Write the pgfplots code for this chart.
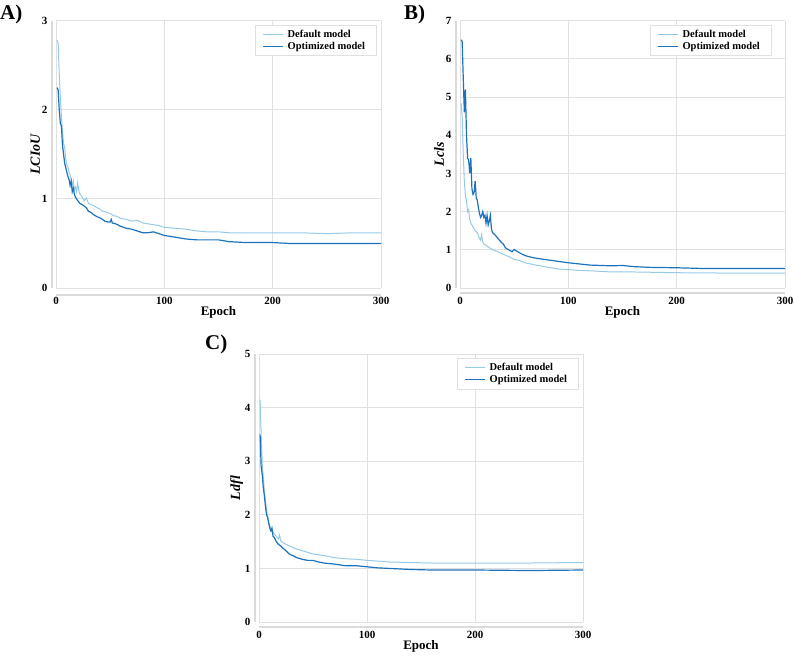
\documentclass[border=0pt]{standalone}
\usepackage{pgfplots}
\pgfplotsset{compat=1.18}
\usepackage{fontspec}
\setmainfont{Liberation Serif}

\definecolor{lightblue}{RGB}{150,202,232}
\definecolor{darkblue}{RGB}{28,114,188}
\definecolor{gridgray}{RGB}{224,224,224}
\definecolor{spinegray}{RGB}{218,218,218}

\tikzset{spine/.style={spinegray, line width=1.8pt}}

% ---------- loss curves: epoch, value ----------
\pgfplotstableread{
x y
1 2.78
2 2.75
3 2.40
4 2.15
5 1.92
6 1.75
7 1.62
8 1.58
9 1.45
10 1.38
11 1.36
12 1.30
13 1.27
14 1.22
15 1.15
16 1.20
17 1.10
18 1.13
19 1.08
20 1.18
21 1.10
22 1.06
24 1.02
26 0.98
28 1.01
30 0.95
32 0.94
35 0.92
38 0.90
40 0.89
43 0.86
45 0.86
48 0.84
50 0.84
53 0.81
55 0.81
60 0.78
65 0.77
70 0.75
75 0.76
80 0.73
85 0.72
90 0.71
95 0.70
100 0.68
110 0.67
120 0.66
130 0.64
140 0.63
150 0.63
160 0.62
175 0.62
200 0.62
225 0.62
250 0.61
275 0.62
300 0.62
}\ciouDefault
\pgfplotstableread{
x y
1 2.25
2 2.22
3 2.00
4 1.85
5 1.82
6 1.60
7 1.50
8 1.40
9 1.35
10 1.30
11 1.25
12 1.22
13 1.15
14 1.20
15 1.08
16 1.12
17 1.05
18 1.02
20 0.98
22 0.95
25 0.93
28 0.90
30 0.86
32 0.85
35 0.82
38 0.80
40 0.79
43 0.77
45 0.75
48 0.74
50 0.74
51 0.77
52 0.73
55 0.72
60 0.69
65 0.67
70 0.66
75 0.64
80 0.62
85 0.62
90 0.63
95 0.61
100 0.59
110 0.57
120 0.55
130 0.54
140 0.54
150 0.54
160 0.52
175 0.51
200 0.51
215 0.50
230 0.50
250 0.50
275 0.50
300 0.50
}\ciouOpt
\pgfplotstableread{
x y
1 4.85
2 4.50
3 3.50
4 2.80
5 2.40
6 2.30
7 2.00
8 2.05
9 1.80
10 1.70
12 1.60
14 1.50
16 1.45
18 1.30
19 1.25
20 1.40
21 1.20
22 1.15
25 1.10
28 1.04
30 1.00
35 0.95
40 0.88
45 0.82
50 0.75
55 0.72
60 0.66
65 0.63
70 0.60
80 0.55
90 0.50
100 0.48
110 0.46
120 0.45
140 0.42
160 0.42
180 0.41
200 0.40
250 0.39
300 0.39
}\clsDefault
\pgfplotstableread{
x y
1 6.50
2 6.45
3 5.50
4 4.60
5 5.20
6 4.00
7 3.40
8 3.35
9 3.00
10 3.40
11 2.60
12 2.45
13 2.50
14 2.80
15 2.35
16 2.30
17 2.10
18 1.95
19 1.85
20 1.90
21 2.00
22 1.85
23 1.90
24 1.70
25 1.90
26 1.65
27 1.75
28 1.90
29 1.55
30 1.45
32 1.40
35 1.30
38 1.20
40 1.15
42 1.05
45 1.00
48 0.95
50 1.01
52 0.97
55 0.92
60 0.85
65 0.81
70 0.78
80 0.74
90 0.70
100 0.66
110 0.63
120 0.60
130 0.59
140 0.58
150 0.59
160 0.56
175 0.54
200 0.53
225 0.51
250 0.51
300 0.51
}\clsOpt
\pgfplotstableread{
x y
1 4.15
2 3.50
3 2.95
4 2.70
5 2.45
6 2.25
7 2.10
8 1.95
9 1.85
10 1.80
12 1.70
14 1.65
16 1.60
18 1.55
19 1.62
20 1.52
22 1.48
25 1.45
30 1.40
35 1.36
40 1.33
45 1.30
50 1.27
60 1.24
70 1.20
80 1.18
90 1.17
100 1.15
120 1.12
140 1.11
160 1.10
180 1.10
200 1.10
250 1.10
300 1.11
}\dflDefault
\pgfplotstableread{
x y
1 3.50
2 2.90
3 2.75
4 2.50
5 2.35
6 2.15
7 2.00
8 1.95
9 1.85
10 1.75
11 1.70
12 1.75
13 1.60
14 1.58
16 1.50
18 1.45
20 1.42
22 1.38
25 1.33
28 1.27
30 1.25
35 1.20
40 1.17
45 1.15
50 1.15
55 1.12
60 1.10
70 1.08
80 1.05
90 1.05
100 1.03
110 1.01
120 1.00
140 0.98
160 0.97
180 0.97
200 0.97
250 0.96
300 0.97
}\dflOpt

\pgfplotsset{
  losspanel/.style={
    scale only axis,
    clip=false,
    xmin=0, xmax=300,
    xtick={0,100,200,300},
    grid=major,
    major grid style={gridgray, line width=0.8pt},
    axis line style={draw=none},
    major tick length=0pt,
    tick style={draw=none},
    /pgf/number format/assume math mode=true,
    ticklabel style={font=\bfseries\fontsize{11}{13}\selectfont},
    yticklabel style={xshift=-5pt},
    xticklabel style={yshift=-6pt},
    xlabel={Epoch},
    xlabel style={font=\bfseries\fontsize{13}{15}\selectfont, yshift=5pt},
    ylabel style={font=\bfseries\itshape\fontsize{14}{16}\selectfont, yshift=-5pt},
    legend cell align=left,
    legend style={draw=gridgray, font=\bfseries\fontsize{10.5}{12}\selectfont,
      anchor=north east, row sep=-1pt, inner xsep=7pt, inner ysep=3pt,
      nodes={inner xsep=4pt}},
    legend image code/.code={\draw[##1] (0pt,0pt) -- (20pt,0pt);},
    every axis plot/.append style={no markers},
  },
}

\begin{document}
\begin{tikzpicture}
\useasboundingbox (0pt,0pt) rectangle (794pt,655pt);

% ---------- A) ----------
\begin{axis}[losspanel, at={(56pt,367pt)}, anchor=south west,
    width=325pt, height=267.3pt,
    ymin=0, ymax=3, ytick={0,1,2,3},
    ylabel={LCIoU},
    legend style={at={(rel axis cs:0.985,0.985)}}]
  \addplot[lightblue, line width=1pt] table {\ciouDefault};
  \addplot[darkblue, line width=1.2pt] table {\ciouOpt};
  \legend{Default model, Optimized model}
  \draw[spine] ([xshift=-4pt]rel axis cs:0,0) -- ([xshift=-4pt]rel axis cs:0,1);
  \draw[spine] ([yshift=-7pt]rel axis cs:0,0) -- ([yshift=-7pt]rel axis cs:1,0);
\end{axis}

% ---------- B) ----------
\begin{axis}[losspanel, at={(460pt,367pt)}, anchor=south west,
    width=325pt, height=267.3pt,
    ymin=0, ymax=7, ytick={0,1,...,7},
    ylabel={Lcls},
    legend style={at={(rel axis cs:0.957,0.985)}}]
  \addplot[lightblue, line width=1pt] table {\clsDefault};
  \addplot[darkblue, line width=1.2pt] table {\clsOpt};
  \legend{Default model, Optimized model}
  \draw[spine] ([xshift=-4pt]rel axis cs:0,0) -- ([xshift=-4pt]rel axis cs:0,1);
  \draw[spine] ([yshift=-5pt]rel axis cs:0,0) -- ([yshift=-5pt]rel axis cs:1,0);
\end{axis}

% ---------- C) ----------
\begin{axis}[losspanel, at={(259pt,33pt)}, anchor=south west,
    width=324pt, height=268pt,
    ymin=0, ymax=5, ytick={0,1,...,5},
    ylabel={Ldfl},
    legend style={at={(rel axis cs:0.985,0.985)}}]
  \addplot[lightblue, line width=1pt] table {\dflDefault};
  \addplot[darkblue, line width=1.2pt] table {\dflOpt};
  \legend{Default model, Optimized model}
  \draw[spine] ([xshift=-4pt]rel axis cs:0,0) -- ([xshift=-4pt]rel axis cs:0,1);
  \draw[spine] ([yshift=-5pt]rel axis cs:0,0) -- ([yshift=-5pt]rel axis cs:1,0);
\end{axis}

% panel letters
\node[anchor=north west, inner sep=0pt, font=\bfseries\fontsize{21}{23}\selectfont] at (0pt,650pt) {A)};
\node[anchor=north west, inner sep=0pt, font=\bfseries\fontsize{21}{23}\selectfont] at (404pt,650pt) {B)};
\node[anchor=north west, inner sep=0pt, font=\bfseries\fontsize{21}{23}\selectfont] at (205pt,320pt) {C)};
\end{tikzpicture}
\end{document}
